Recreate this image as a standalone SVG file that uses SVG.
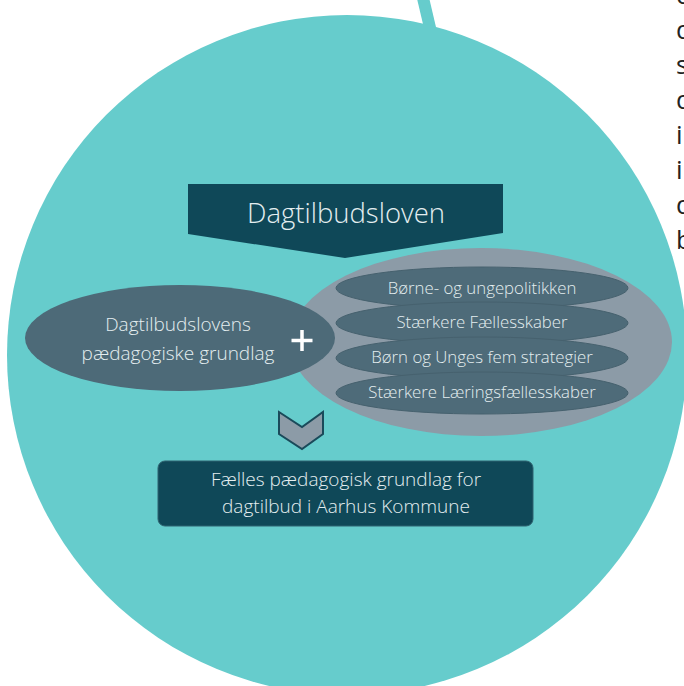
<svg xmlns="http://www.w3.org/2000/svg" width="684" height="686" viewBox="0 0 684 686">
<style>
.lbl{font-family:"Open Sans","Liberation Sans",sans-serif;font-weight:300;fill:#e4eef0;text-anchor:middle}
.side{font-family:"Open Sans","Liberation Sans",sans-serif;font-size:26px;fill:#222}
.inner{fill:#4e6b79;stroke:#46616e;stroke-width:1}
</style>
<rect width="684" height="686" fill="#ffffff"/>
<g id="background">
<line x1="423" y1="-2" x2="431" y2="32" stroke="#66cccc" stroke-width="12"/>
<circle cx="347" cy="355" r="340" fill="#66cccc"/>
</g>
<g id="side-text">
<text class="side" x="676" y="4">d</text>
<text class="side" x="676" y="39">d</text>
<text class="side" x="676" y="74">s</text>
<text class="side" x="676" y="109">d</text>
<text class="side" x="676" y="144">i</text>
<text class="side" x="676" y="179">i</text>
<text class="side" x="676" y="214">d</text>
<text class="side" x="676" y="249">b</text>
</g>
<g id="group-ellipse">
<ellipse cx="481" cy="342" rx="191" ry="94" fill="#8c9ba7"/>
</g>
<g id="n-title">
<polygon points="188,184 503,184 503,233 345,258 188,234" fill="#0f4858"/>
<text class="lbl" x="346" y="223" font-size="27.5">Dagtilbudsloven</text>
</g>
<g id="n-left">
<ellipse cx="180" cy="338" rx="155" ry="53" fill="#4d6a78"/>
<text class="lbl" x="178" y="331" font-size="19">Dagtilbudslovens</text>
<text class="lbl" x="178" y="360" font-size="19">pædagogiske grundlag</text>
</g>
<g id="n-plus">
<path d="M302 330 V351 M291.5 340.5 H312.5" stroke="#ffffff" stroke-width="3.5" fill="none"/>
</g>
<g id="n-item1">
<ellipse class="inner" cx="482" cy="288" rx="146" ry="21"/>
<text class="lbl" x="482" y="294" font-size="16.8">Børne- og ungepolitikken</text>
</g>
<g id="n-item2">
<ellipse class="inner" cx="482" cy="323" rx="146" ry="21"/>
<text class="lbl" x="482" y="328" font-size="16.8">Stærkere Fællesskaber</text>
</g>
<g id="n-item3">
<ellipse class="inner" cx="482" cy="358" rx="146" ry="21"/>
<text class="lbl" x="482" y="363" font-size="16.8">Børn og Unges fem strategier</text>
</g>
<g id="n-item4">
<ellipse class="inner" cx="482" cy="393" rx="146" ry="21"/>
<text class="lbl" x="482" y="398" font-size="16.8">Stærkere Læringsfællesskaber</text>
</g>
<g id="connectors">
<polygon points="279,412 302,427 323,412 323,434 302,449 279,434" fill="#8c9ba7" stroke="#1a4a5a" stroke-width="2" stroke-linejoin="miter"/>
</g>
<g id="n-result">
<rect x="158" y="461" width="375" height="65" rx="7" fill="#0f4858" stroke="#2f6370" stroke-width="1"/>
<text class="lbl" x="346" y="486" font-size="19">Fælles pædagogisk grundlag for</text>
<text class="lbl" x="346" y="513" font-size="19">dagtilbud i Aarhus Kommune</text>
</g>
</svg>
